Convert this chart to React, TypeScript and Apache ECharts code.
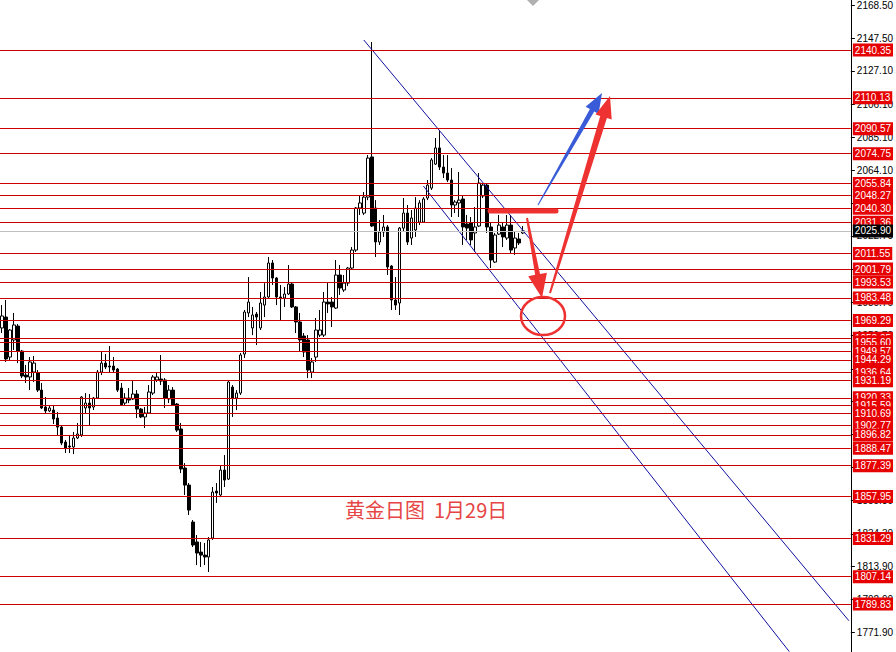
import React, { useEffect, useRef } from "react";
import * as echarts from "echarts";

const slotCount = 214;
const categories: string[] = Array.from({ length: slotCount }, (_, i) => String(i + 1));

const opens = [
  1964.5, 1971.4, 1946.1, 1956.9, 1965.7, 1949.9, 1934.7, 1933.5, 1936.6, 1936.0,
  1925.2, 1914.5, 1912.0, 1912.6, 1907.5, 1901.8, 1892.3, 1889.8, 1889.2, 1894.9,
  1896.8, 1913.9, 1917.0, 1914.5, 1920.2, 1936.6, 1942.3, 1940.4, 1940.4, 1938.5,
  1926.5, 1917.0, 1920.2, 1919.6, 1922.7, 1913.2, 1908.2, 1910.7, 1923.3, 1931.6,
  1932.2, 1931.6, 1919.6, 1925.2, 1916.4, 1900.6, 1875.9, 1865.1, 1841.7, 1829.1,
  1822.7, 1820.8, 1819.6, 1831.6, 1861.3, 1858.8, 1874.6, 1868.9, 1927.1, 1920.2,
  1923.3, 1948.0, 1974.0, 1964.5, 1973.3, 1964.5, 1979.0, 1984.1, 2005.6, 1996.1,
  1984.1, 1983.5, 1986.0, 1992.3, 1977.8, 1968.3, 1959.4, 1956.9, 1936.6, 1946.1,
  1960.0, 1960.0, 1980.9, 1980.9, 1977.1, 1998.0, 1988.5, 1992.9, 2002.4, 2013.8,
  2040.4, 2037.2, 2047.3, 2072.7, 2040.4, 2018.9, 2025.2, 2028.4, 2003.7, 1982.2,
  1980.3, 2027.7, 2037.2, 2021.4, 2026.5, 2031.5, 2031.5, 2046.7, 2053.0, 2068.2,
  2078.4, 2066.3, 2062.5, 2058.1, 2042.3, 2043.6, 2046.1, 2030.3, 2030.9, 2024.6,
  2029.0, 2048.0, 2054.9, 2028.4, 2006.2, 2023.9, 2028.4, 2021.4, 2029.6, 2015.1,
  2020.8, 2024.6,
];

const closes = [
  1972.1, 1944.9, 1963.2, 1966.4, 1949.9, 1934.1, 1933.5, 1943.0, 1942.3, 1925.2,
  1913.9, 1912.0, 1913.9, 1906.9, 1901.8, 1891.7, 1888.5, 1889.2, 1894.9, 1897.4,
  1920.8, 1917.0, 1913.9, 1920.2, 1936.6, 1942.3, 1939.8, 1939.8, 1937.9, 1925.2,
  1915.8, 1920.2, 1918.9, 1922.7, 1913.2, 1908.2, 1910.7, 1924.0, 1933.5, 1933.5,
  1930.9, 1920.2, 1925.2, 1915.8, 1899.9, 1875.3, 1865.1, 1849.3, 1827.2, 1822.1,
  1820.8, 1819.6, 1830.4, 1860.7, 1860.1, 1874.6, 1868.3, 1930.3, 1920.2, 1923.3,
  1947.4, 1974.6, 1980.9, 1972.7, 1971.4, 1980.3, 1984.1, 2005.6, 1996.1, 1984.1,
  1983.5, 1986.0, 1992.3, 1977.8, 1968.3, 1956.9, 1949.3, 1937.9, 1943.0, 1963.2,
  1963.2, 1980.9, 1979.7, 1977.8, 1998.0, 1989.8, 1992.9, 2002.4, 2013.8, 2040.4,
  2043.6, 2047.3, 2072.0, 2029.0, 2018.9, 2025.2, 2028.4, 2003.1, 1982.2, 1979.0,
  2027.7, 2037.2, 2018.9, 2034.1, 2040.4, 2043.6, 2046.1, 2054.9, 2070.8, 2078.4,
  2066.3, 2062.5, 2058.1, 2042.3, 2044.2, 2045.4, 2028.4, 2027.7, 2020.2, 2028.4,
  2056.2, 2054.9, 2028.4, 2007.5, 2023.3, 2029.6, 2022.1, 2029.6, 2013.8, 2021.4,
  2018.3, 2025.9,
];

const lows = [
  1961.3, 1943.0, 1944.2, 1950.6, 1942.3, 1932.8, 1929.7, 1925.2, 1930.3, 1924.0,
  1913.2, 1910.7, 1911.3, 1903.7, 1896.8, 1890.4, 1885.4, 1885.4, 1884.7, 1894.2,
  1895.5, 1910.7, 1903.1, 1912.6, 1919.6, 1934.7, 1938.5, 1936.6, 1936.6, 1924.0,
  1915.1, 1915.8, 1917.0, 1918.9, 1907.5, 1907.5, 1901.2, 1910.1, 1922.1, 1930.3,
  1928.4, 1913.9, 1917.0, 1915.1, 1898.7, 1872.7, 1858.8, 1846.2, 1825.9, 1814.5,
  1813.3, 1814.5, 1810.1, 1830.4, 1853.8, 1857.5, 1863.9, 1868.3, 1908.2, 1912.6,
  1922.1, 1945.5, 1971.4, 1960.0, 1953.7, 1963.2, 1971.4, 1983.5, 1991.7, 1979.0,
  1969.5, 1977.8, 1985.4, 1977.1, 1961.3, 1949.3, 1946.1, 1932.8, 1932.8, 1943.0,
  1958.8, 1958.8, 1974.0, 1965.1, 1976.5, 1985.4, 1987.3, 1991.0, 2001.2, 2012.6,
  2036.0, 2036.0, 2045.4, 2028.4, 2009.4, 2017.0, 2022.1, 1998.0, 1975.9, 1975.9,
  1972.7, 2025.2, 2017.0, 2017.0, 2022.1, 2029.6, 2030.9, 2045.4, 2051.8, 2067.6,
  2064.4, 2059.4, 2056.8, 2034.7, 2037.2, 2034.7, 2017.0, 2020.2, 2017.0, 2012.6,
  2028.4, 2046.7, 2024.6, 2002.4, 2005.6, 2023.3, 2015.7, 2020.2, 2011.9, 2010.7,
  2017.0, 2023.9,
];

const highs = [
  1979.0, 1982.2, 1963.8, 1974.0, 1967.0, 1950.6, 1941.1, 1946.1, 1946.8, 1937.9,
  1929.7, 1920.8, 1915.1, 1915.8, 1911.3, 1903.1, 1893.6, 1896.8, 1898.7, 1904.4,
  1921.4, 1923.3, 1922.7, 1920.8, 1937.9, 1949.3, 1948.0, 1953.1, 1946.1, 1939.2,
  1929.7, 1923.3, 1926.5, 1930.9, 1925.2, 1913.9, 1914.5, 1928.4, 1934.7, 1936.6,
  1947.4, 1932.8, 1928.4, 1927.1, 1917.0, 1904.4, 1879.0, 1866.4, 1843.0, 1833.5,
  1829.1, 1828.5, 1832.2, 1863.9, 1866.4, 1877.8, 1884.1, 1931.6, 1928.4, 1925.2,
  1948.7, 1975.9, 1996.7, 1977.8, 1974.6, 1987.3, 1992.9, 2009.4, 2007.5, 1996.7,
  1991.7, 1990.4, 2004.3, 1993.6, 1978.4, 1974.0, 1961.3, 1960.0, 1945.5, 1970.8,
  1975.9, 1987.3, 1992.9, 1984.1, 2007.5, 2004.3, 1998.0, 2003.1, 2015.7, 2041.0,
  2048.6, 2050.5, 2073.9, 2145.4, 2045.4, 2032.8, 2036.0, 2029.6, 2004.3, 1996.7,
  2028.4, 2046.7, 2042.3, 2039.1, 2047.3, 2045.4, 2047.3, 2058.1, 2072.0, 2084.7,
  2089.7, 2073.9, 2073.9, 2065.7, 2045.4, 2063.2, 2048.6, 2036.0, 2034.7, 2041.0,
  2062.5, 2056.2, 2056.2, 2031.5, 2024.6, 2036.0, 2031.5, 2036.0, 2036.0, 2025.2,
  2024.6, 2029.0,
];

const redLevels = [
  2140.35, 2110.13, 2090.57, 2074.75, 2055.84, 2048.27, 2040.3, 2031.36, 2011.55,
  2001.79, 1993.53, 1983.48, 1969.29, 1958.05, 1955.6, 1949.57, 1944.29, 1936.64,
  1931.19, 1920.33, 1915.59, 1910.69, 1902.77, 1896.82, 1888.47, 1877.39, 1857.95,
  1831.29, 1807.14, 1789.83,
];

const currentPrice = 2025.9;

const tickValues = [
  2168.5, 2147.5, 2127.1, 2106.1, 2085.1, 2064.1, 2043.1, 2022.7, 2001.7, 1980.7,
  1959.7, 1938.7, 1918.3, 1897.3, 1876.3, 1855.3, 1834.3, 1813.9, 1792.9, 1771.9,
];

// channel line end points: category index and price
const upperIdx = [91, 213];
const upperVal = [2146.7, 1779.3];
const lowerIdx = [106, 198];
const lowerVal = [2054.3, 1759.8];

const axisMin = 1759.5;
const axisMax = 2172.0;

function slotSeries(idx: number[], vals: number[]): (number | null)[] {
  return categories.map((_, i) => {
    const k = idx.indexOf(i);
    return k >= 0 ? vals[k] : null;
  });
}

function arrowPoints(
  x1: number, y1: number, x2: number, y2: number,
  w0: number, w1: number, headLen: number, headW: number
): number[][] {
  const dx = x2 - x1;
  const dy = y2 - y1;
  const len = Math.sqrt(dx * dx + dy * dy);
  const ux = dx / len;
  const uy = dy / len;
  const px = -uy;
  const py = ux;
  const bx = x2 - ux * headLen;
  const by = y2 - uy * headLen;
  return [
    [x1 + px * w0 / 2, y1 + py * w0 / 2],
    [bx + px * w1 / 2, by + py * w1 / 2],
    [bx + px * headW / 2, by + py * headW / 2],
    [x2, y2],
    [bx - px * headW / 2, by - py * headW / 2],
    [bx - px * w1 / 2, by - py * w1 / 2],
    [x1 - px * w0 / 2, y1 - py * w0 / 2],
  ];
}

export default function App() {
  const ref = useRef<HTMLDivElement>(null);

  useEffect(() => {
    if (!ref.current) return;
    const chart = echarts.init(ref.current, null, { renderer: "svg" });

    const candleData = opens.map((o, i) => [o, closes[i], lows[i], highs[i]]);
    const fmt = (p: any) => Number(p.value).toFixed(2);

    const markData: any[] = redLevels.map((v) => ({ yAxis: v }));
    markData.push({
      yAxis: currentPrice,
      lineStyle: { color: "#c0c0c0", width: 1, type: "solid" },
      label: { backgroundColor: "#000000", color: "#ffffff" },
    });

    const red = "#ee3232";

    chart.setOption({
      animation: false,
      backgroundColor: "#ffffff",
      grid: { left: 0, right: 40, top: 0, bottom: 0, containLabel: false },
      xAxis: {
        type: "category",
        data: categories,
        boundaryGap: true,
        axisLine: { show: false },
        axisTick: { show: false },
        axisLabel: { show: false },
        splitLine: { show: false },
      },
      yAxis: {
        type: "value",
        position: "right",
        min: axisMin,
        max: axisMax,
        scale: true,
        axisLine: { show: true, lineStyle: { color: "#000000", width: 1 } },
        axisTick: {
          show: true,
          length: 4,
          customValues: tickValues,
          lineStyle: { color: "#000000" },
        },
        axisLabel: {
          show: true,
          customValues: tickValues,
          margin: 6,
          color: "#000000",
          fontSize: 10,
          fontFamily: "Liberation Sans",
          formatter: (v: number) => v.toFixed(2),
        },
        splitLine: { show: false },
      },
      series: [
        {
          type: "candlestick",
          data: candleData,
          barWidth: 3,
          itemStyle: {
            color: "#ffffff",
            color0: "#000000",
            borderColor: "#000000",
            borderColor0: "#000000",
            borderColorDoji: "#000000",
            borderWidth: 1,
          },
          markLine: {
            silent: true,
            symbol: ["none", "none"],
            precision: 2,
            lineStyle: { color: "#cc0000", width: 1, type: "solid" },
            label: {
              show: true,
              position: "end",
              distance: 2,
              formatter: fmt,
              backgroundColor: "#e60000",
              color: "#ffffff",
              fontSize: 10,
              fontFamily: "Liberation Sans",
              padding: [2, 2, 1, 2],
            },
            emphasis: { disabled: true },
            data: markData,
          },
          z: 3,
        },
        {
          type: "line",
          data: slotSeries(upperIdx, upperVal),
          connectNulls: true,
          showSymbol: false,
          symbol: "none",
          lineStyle: { color: "#1010a0", width: 1 },
          silent: true,
          z: 4,
        },
        {
          type: "line",
          data: slotSeries(lowerIdx, lowerVal),
          connectNulls: true,
          showSymbol: false,
          symbol: "none",
          lineStyle: { color: "#1010a0", width: 1 },
          silent: true,
          z: 4,
        },
      ],
      graphic: [
        {
          type: "polygon",
          shape: { points: [[527, 0], [539, 0], [533, 6]] },
          style: { fill: "#b0b0b0" },
          z: 10,
        },
        {
          type: "line",
          shape: { x1: 490, y1: 211, x2: 556, y2: 211 },
          style: { stroke: red, lineWidth: 5, lineCap: "round" },
          z: 10,
        },
        {
          type: "polygon",
          shape: { points: arrowPoints(538, 205, 602, 93, 1, 5, 20, 15) },
          style: { fill: "#3a5bd8" },
          z: 10,
        },
        {
          type: "polygon",
          shape: { points: arrowPoints(550, 293, 610, 96, 2, 7, 22, 17) },
          style: { fill: red },
          z: 10,
        },
        {
          type: "polygon",
          shape: { points: arrowPoints(527, 218, 542, 298, 2, 5, 24, 19) },
          style: { fill: red },
          z: 10,
        },
        {
          type: "ellipse",
          shape: { cx: 543, cy: 316, rx: 22, ry: 19 },
          style: { fill: "none", stroke: red, lineWidth: 2.5 },
          z: 10,
        },
        {
          type: "text",
          left: 345,
          top: 499,
          style: {
            text: "黄金日图\u00a0\u00a01月29日",
            fill: "#e64545",
            fontSize: 20,
            fontFamily: "Noto Sans CJK SC",
          },
          z: 10,
        },
      ],
    });

    return () => chart.dispose();
  }, []);

  return (
    <div
      ref={ref}
      style={{ position: "fixed", left: 0, top: 0, width: 896, height: 652, background: "#fff" }}
    />
  );
}
